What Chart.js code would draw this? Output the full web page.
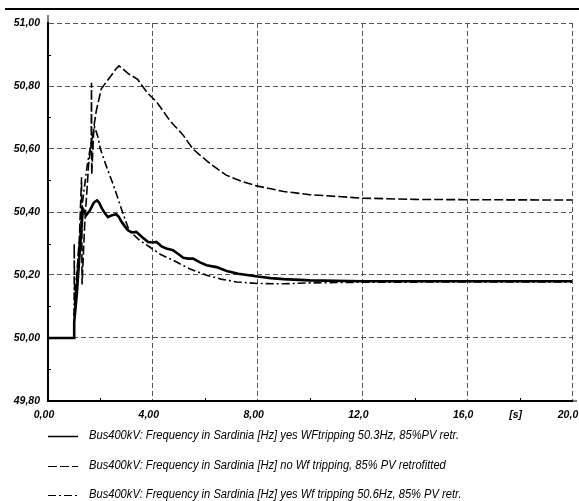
<!DOCTYPE html>
<html>
<head>
<meta charset="utf-8">
<script src="https://cdn.jsdelivr.net/npm/chart.js@4.4.1/dist/chart.umd.min.js"></script>
<style>
html,body{margin:0;padding:0;background:#fff;}
#wrap{width:579px;height:501px;position:relative;}
</style>
</head>
<body>
<div id="wrap"><canvas id="c" width="579" height="501"></canvas></div>
<script>
// ---- data ----
const seriesLabels = [
  "Bus400kV: Frequency in Sardinia [Hz] yes WFtripping 50.3Hz, 85%PV retr.",
  "Bus400kV: Frequency in Sardinia [Hz] no Wf tripping, 85% PV retrofitted",
  "Bus400kV: Frequency in Sardinia [Hz] yes Wf tripping 50.6Hz, 85% PV retr."
];
const tSolid = [0, 1.0, 1.0, 1.1, 1.2, 1.33, 1.46, 1.6, 1.75, 1.87, 1.95, 2.05, 2.18, 2.29, 2.45, 2.6, 2.7, 2.8, 2.92, 3.05, 3.2, 3.37, 3.6, 3.82, 4.0, 4.14, 4.35, 4.52, 4.77, 5.0, 5.16, 5.35, 5.54, 5.8, 6.05, 6.43, 6.82, 7.26, 8.0, 8.5, 9.0, 10.0, 12.0, 16.0, 20.0];
const vSolid = [50.00, 50.00, 50.05, 50.14, 50.26, 50.41, 50.39, 50.405, 50.43, 50.437, 50.43, 50.412, 50.395, 50.384, 50.39, 50.393, 50.385, 50.37, 50.356, 50.342, 50.335, 50.337, 50.32, 50.305, 50.303, 50.305, 50.29, 50.284, 50.279, 50.265, 50.255, 50.252, 50.252, 50.24, 50.231, 50.225, 50.213, 50.204, 50.195, 50.19, 50.187, 50.183, 50.18, 50.18, 50.18];

const tDashed = [0, 1.0, 1.0, 1.08, 1.2, 1.28, 1.30, 1.40, 1.55, 1.65, 1.66, 1.67, 1.75, 1.84, 2.03, 2.2, 2.47, 2.6, 2.71, 2.85, 3.05, 3.25, 3.43, 3.6, 3.82, 4.14, 4.4, 4.65, 5.16, 5.53, 6.18, 6.8, 7.4, 7.96, 9.0, 10.0, 12.0, 14.0, 16.0, 20.0];
const vDashed = [50.00, 50.00, 50.08, 50.18, 50.32, 50.51, 50.17, 50.36, 50.55, 50.62, 50.81, 50.52, 50.67, 50.72, 50.79, 50.81, 50.84, 50.855, 50.864, 50.855, 50.84, 50.83, 50.82, 50.80, 50.776, 50.75, 50.72, 50.69, 50.644, 50.60, 50.554, 50.517, 50.497, 50.483, 50.465, 50.455, 50.444, 50.44, 50.439, 50.438];

const tDashDot = [0, 1.0, 1.0, 1.02, 1.15, 1.3, 1.5, 1.65, 1.78, 1.9, 2.0, 2.25, 2.5, 2.8, 3.1, 3.5, 3.88, 4.3, 4.77, 5.4, 6.05, 6.6, 7.2, 8.0, 9.0, 10.0, 12.0, 16.0, 20.0];
const vDashDot = [50.00, 50.00, 50.30, 50.10, 50.25, 50.42, 50.55, 50.62, 50.67, 50.64, 50.60, 50.54, 50.485, 50.41, 50.34, 50.31, 50.289, 50.265, 50.247, 50.22, 50.199, 50.187, 50.178, 50.173, 50.172, 50.175, 50.177, 50.178, 50.178];

const xTickValues = [0, 4, 8, 12, 16, 18, 20];
const xTickLabels = ["0,00", "4,00", "8,00", "12,0", "16,0", "[s]", "20,0"];
const xMinorTicks = [2, 6, 10, 14, 18];
const yTickValues = [49.8, 50.0, 50.2, 50.4, 50.6, 50.8, 51.0];
const yTickLabels = ["49,80", "50,00", "50,20", "50,40", "50,60", "50,80", "51,00"];
const yMinorTicks = [49.9, 50.1, 50.3, 50.5, 50.7, 50.9];

function pts(t, v) { return t.map((x, i) => ({x: x, y: v[i]})); }

const FAMILY = "'Liberation Sans','Arial',sans-serif";
const TICK_FONT = {family: FAMILY, size: 10.5, style: 'italic', weight: 'bold'};

const decor = {
  id: 'decor',
  beforeDraw(chart) {
    const ctx = chart.ctx;
    ctx.save();
    ctx.strokeStyle = '#000';
    ctx.lineWidth = 2;
    ctx.beginPath();
    ctx.moveTo(5, 9); ctx.lineTo(579, 9);
    ctx.stroke();
    ctx.restore();
  },
  afterDraw(chart) {
    const ctx = chart.ctx;
    const xs = chart.scales.x, ys = chart.scales.y;
    const a = chart.chartArea;
    ctx.save();
    ctx.strokeStyle = '#000';
    ctx.lineWidth = 1;
    ctx.beginPath();
    ctx.moveTo(a.left, a.top); ctx.lineTo(a.left, a.top - 8);
    ctx.moveTo(a.right, a.bottom); ctx.lineTo(a.right + 5, a.bottom);
    ctx.stroke();
    ctx.beginPath();
    xMinorTicks.forEach(v => { const px = Math.round(xs.getPixelForValue(v)) + 0.5; ctx.moveTo(px, a.bottom); ctx.lineTo(px, a.bottom - 3); });
    yMinorTicks.forEach(v => { const py = Math.round(ys.getPixelForValue(v)) + 0.5; ctx.moveTo(a.left, py); ctx.lineTo(a.left + 3, py); });
    ctx.stroke();
    // legend
    const fs = 12.5;
    ctx.font = "italic " + fs + "px " + FAMILY;
    const w = ctx.measureText(seriesLabels[0]).width;
    const sx = Math.min(1, 370 / w);
    const rows = [436, 466, 495];
    const dashes = [[], [9, 3], [8, 3, 2, 3]];
    chart.data.datasets.forEach((ds, i) => {
      const y = rows[i] + 0.5;
      ctx.save();
      ctx.setLineDash(dashes[i]);
      ctx.lineWidth = i === 0 ? 1.5 : 1.2;
      ctx.beginPath(); ctx.moveTo(48, y); ctx.lineTo(78, y); ctx.stroke();
      ctx.restore();
      ctx.save();
      ctx.fillStyle = '#000';
      ctx.font = "italic " + fs + "px " + FAMILY;
      ctx.textBaseline = 'middle';
      ctx.textAlign = 'left';
      ctx.translate(89, rows[i]);
      ctx.scale(sx, 1);
      ctx.fillText(ds.label, 0, 0);
      ctx.restore();
    });
    ctx.restore();
  }
};

new Chart(document.getElementById('c'), {
  type: 'scatter',
  data: {
    datasets: [
      {label: seriesLabels[0], data: pts(tSolid, vSolid), showLine: true, borderColor: '#000', borderWidth: 2.6, pointRadius: 0, tension: 0, order: 1},
      {label: seriesLabels[1], data: pts(tDashed, vDashed), showLine: true, borderColor: '#000', borderWidth: 1.6, borderDash: [9, 3], pointRadius: 0, tension: 0, order: 2},
      {label: seriesLabels[2], data: pts(tDashDot, vDashDot), showLine: true, borderColor: '#000', borderWidth: 1.6, borderDash: [8, 3, 2, 3], pointRadius: 0, tension: 0, order: 3}
    ]
  },
  options: {
    responsive: false,
    animation: false,
    devicePixelRatio: 1,
    layout: {padding: {left: 0, right: 7, top: 23, bottom: 80}},
    plugins: {legend: {display: false}, tooltip: {enabled: false}},
    scales: {
      x: {
        type: 'linear', min: 0, max: 20,
        afterBuildTicks: s => { s.ticks = xTickValues.map(v => ({value: v})); },
        afterFit: s => { s.height = 20; s.paddingLeft = 0; s.paddingRight = 0; },
        ticks: {
          callback: (v) => xTickLabels[xTickValues.indexOf(v)],
          color: '#000', font: TICK_FONT, padding: 8, maxRotation: 0, autoSkip: false, labelOffset: -4
        },
        grid: {
          drawTicks: false,
          color: c => (c.tick && (c.tick.value === 0 || c.tick.value === 18)) ? 'rgba(0,0,0,0)' : '#555',
          lineWidth: 1
        },
        border: {display: true, color: '#000', width: 2, dash: [5, 3]}
      },
      y: {
        type: 'linear', min: 49.8, max: 51.0,
        afterBuildTicks: s => { s.ticks = yTickValues.map(v => ({value: v})); },
        afterFit: s => { s.width = 48; s.paddingTop = 0; s.paddingBottom = 0; },
        ticks: {
          callback: (v) => { const i = yTickValues.findIndex(t => Math.abs(t - v) < 1e-6); return i >= 0 ? yTickLabels[i] : ''; },
          color: '#000', font: TICK_FONT, padding: 8, autoSkip: false
        },
        grid: {
          drawTicks: false,
          color: c => (c.tick && Math.abs(c.tick.value - 49.8) < 1e-6) ? 'rgba(0,0,0,0)' : '#555',
          lineWidth: 1
        },
        border: {display: true, color: '#000', width: 2, dash: [5, 3]}
      }
    }
  },
  plugins: [decor]
});
</script>
</body>
</html>
